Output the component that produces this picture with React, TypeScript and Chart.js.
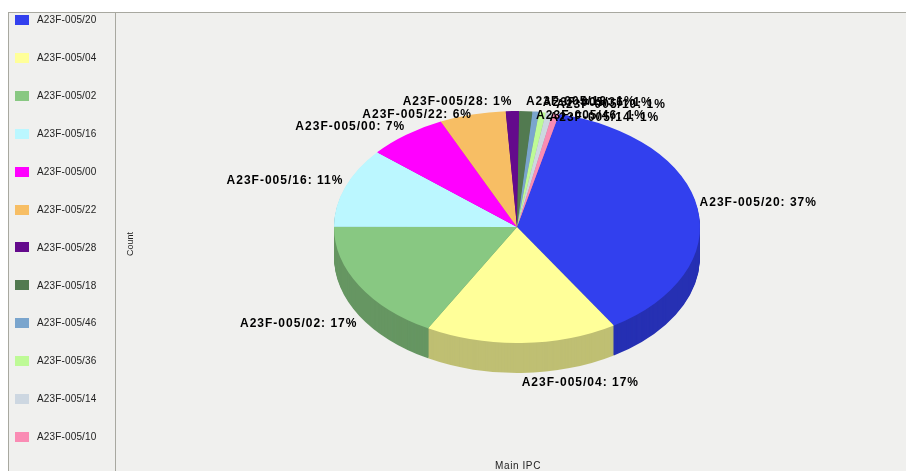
import React, { useEffect, useRef } from "react";
import { Chart, registerables } from "chart.js";

Chart.register(...registerables);

// ---- data ----
const categories = [
  "A23F-005/20",
  "A23F-005/04",
  "A23F-005/02",
  "A23F-005/16",
  "A23F-005/00",
  "A23F-005/22",
  "A23F-005/28",
  "A23F-005/18",
  "A23F-005/46",
  "A23F-005/36",
  "A23F-005/14",
  "A23F-005/10",
];
const counts = [64, 29, 29, 19, 12, 10, 2, 2, 1, 1, 1, 1];
const sliceColors = [
  "rgb(50,64,238)",
  "rgb(255,255,153)",
  "rgb(136,200,130)",
  "rgb(187,247,255)",
  "rgb(255,0,255)",
  "rgb(247,190,100)",
  "rgb(100,10,140)",
  "rgb(82,122,80)",
  "rgb(122,165,205)",
  "rgb(190,250,150)",
  "rgb(205,215,225)",
  "rgb(250,140,180)",
];
const xAxisTitle = "Main IPC";
const yAxisTitle = "Count";

// ---- layout ----
const W = 906;
const H = 471;
const CX = 517;
const CY = 227;
const RX = 183;
const RY = 116;
const K = RY / RX;
const DEPTH = 30;
const START_ROTATION = 13.3;

function darken(c: string, f: number) {
  const m = c.match(/\d+/g) || ["0", "0", "0"];
  const [r, g, b] = m.map((v) => Math.round(parseInt(v, 10) * f));
  return `rgb(${r},${g},${b})`;
}

const pie3d = {
  id: "pie3d",
  beforeDraw(chart: any) {
    const ctx = chart.ctx as CanvasRenderingContext2D;
    ctx.save();
    ctx.fillStyle = "#ffffff";
    ctx.fillRect(0, 0, W, H);
    ctx.fillStyle = "#f0f0ee";
    ctx.fillRect(8, 12, W - 8, H - 12);
    ctx.strokeStyle = "#a8a8a0";
    ctx.lineWidth = 1;
    ctx.beginPath();
    ctx.moveTo(8, 12.5);
    ctx.lineTo(W, 12.5);
    ctx.moveTo(8.5, 12);
    ctx.lineTo(8.5, H);
    ctx.moveTo(115.5, 12);
    ctx.lineTo(115.5, H);
    ctx.stroke();

    // legend
    const labels: string[] = chart.data.labels;
    const bgs: string[] = chart.data.datasets[0].backgroundColor;
    ctx.font = '10px "Liberation Sans", Arial, sans-serif';
    (ctx as any).letterSpacing = "0.15px";
    ctx.textBaseline = "middle";
    ctx.textAlign = "left";
    labels.forEach((lab, i) => {
      const yc = 20 + i * 37.9;
      ctx.fillStyle = bgs[i];
      ctx.fillRect(15, Math.round(yc - 5), 14, 10);
      ctx.fillStyle = "#222";
      ctx.fillText(lab, 37, yc + 0.5);
    });

    // axis titles
    ctx.font = '9px "Liberation Sans", Arial, sans-serif';
    (ctx as any).letterSpacing = "0px";
    ctx.fillStyle = "#222";
    ctx.save();
    ctx.translate(131, 244);
    ctx.rotate(-Math.PI / 2);
    ctx.textAlign = "center";
    ctx.fillText(yAxisTitle, 0, 0);
    ctx.restore();
    ctx.font = '10px "Liberation Sans", Arial, sans-serif';
    (ctx as any).letterSpacing = "0.6px";
    ctx.textAlign = "center";
    ctx.fillText(xAxisTitle, 518, 466.5);
    ctx.restore();
  },
  beforeDatasetsDraw(chart: any) {
    const ctx = chart.ctx as CanvasRenderingContext2D;
    const meta = chart.getDatasetMeta(0);
    const arcs = meta.data;
    const bgs: string[] = chart.data.datasets[0].backgroundColor;
    const cy = arcs[0].y;
    ctx.save();
    ctx.translate(0, cy);
    ctx.scale(1, K);
    ctx.translate(0, -cy);
    for (let d = DEPTH; d >= 1; d -= 1) {
      const off = d / K;
      arcs.forEach((arc: any, i: number) => {
        ctx.fillStyle = darken(bgs[i], 0.75);
        ctx.beginPath();
        ctx.moveTo(arc.x, arc.y + off);
        ctx.arc(arc.x, arc.y + off, arc.outerRadius, arc.startAngle, arc.endAngle);
        ctx.closePath();
        ctx.fill();
      });
    }
  },
  afterDatasetsDraw(chart: any) {
    const ctx = chart.ctx as CanvasRenderingContext2D;
    ctx.restore();
    const meta = chart.getDatasetMeta(0);
    const arcs = meta.data;
    const data: number[] = chart.data.datasets[0].data;
    const labels: string[] = chart.data.labels;
    const total = data.reduce((a, b) => a + b, 0);
    ctx.save();
    ctx.font = 'bold 12px "Liberation Sans", Arial, sans-serif';
    (ctx as any).letterSpacing = "1px";
    ctx.textBaseline = "middle";
    ctx.textAlign = "left";
    ctx.fillStyle = "#000";
    const h = 10;
    let prev: { x0: number; x1: number; y0: number; y1: number } | null = null;
    for (let i = arcs.length - 1; i >= 0; i--) {
      const arc = arcs[i];
      const mid = (arc.startAngle + arc.endAngle) / 2;
      const px = arc.x + (arc.outerRadius + 2) * Math.cos(mid);
      const py = arc.y + (arc.outerRadius * K + 4) * Math.sin(mid);
      const text = `${labels[i]}: ${Math.round((data[i] / total) * 100)}%`;
      const w = ctx.measureText(text).width;
      const x0 = Math.cos(mid) < 0 ? px - w : px;
      let yc = Math.sin(mid) < 0 ? py - h / 2 : py + DEPTH + h / 2 + 0.5;
      let box = { x0, x1: x0 + w, y0: yc - h / 2, y1: yc + h / 2 };
      if (
        prev &&
        box.x0 < prev.x1 &&
        box.x1 > prev.x0 &&
        box.y0 < prev.y1 &&
        box.y1 > prev.y0
      ) {
        yc = prev.y1 + 3 + h / 2;
        box = { x0, x1: x0 + w, y0: yc - h / 2, y1: yc + h / 2 };
      }
      ctx.fillText(text, x0, yc);
      prev = box;
    }
    ctx.restore();
  },
};

export default function App() {
  const ref = useRef<HTMLCanvasElement | null>(null);
  useEffect(() => {
    if (!ref.current) return;
    const chart = new Chart(ref.current, {
      type: "pie",
      data: {
        labels: categories,
        datasets: [
          {
            data: counts,
            backgroundColor: sliceColors,
            borderWidth: 0,
            hoverOffset: 0,
          },
        ],
      },
      options: {
        responsive: false,
        maintainAspectRatio: false,
        animation: false,
        events: [],
        rotation: START_ROTATION,
        radius: RX,
        layout: {
          padding: {
            left: CX - RX,
            right: W - CX - RX,
            top: CY - RX,
            bottom: H - CY - RX,
          },
        },
        plugins: {
          legend: { display: false },
          tooltip: { enabled: false },
        },
      },
      plugins: [pie3d],
    } as any);
    return () => chart.destroy();
  }, []);
  return (
    <div style={{ position: "fixed", left: 0, top: 0, width: W, height: H }}>
      <canvas ref={ref} width={W} height={H} style={{ display: "block" }} />
    </div>
  );
}
